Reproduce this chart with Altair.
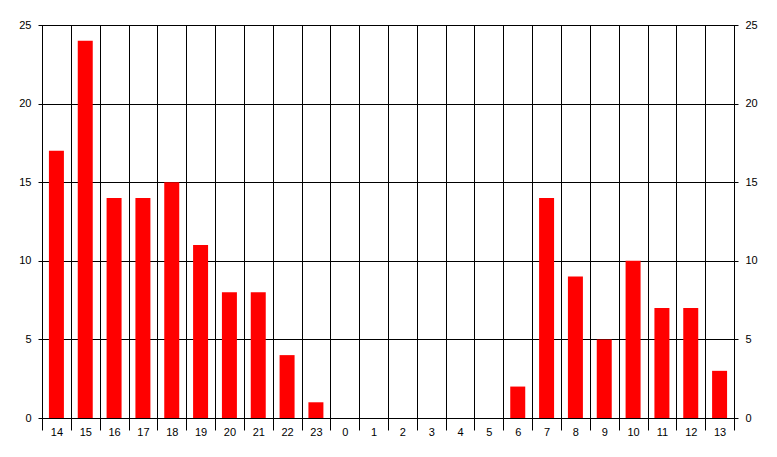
import altair as alt
import pandas as pd

hours = ["14", "15", "16", "17", "18", "19", "20", "21", "22", "23", "0", "1",
         "2", "3", "4", "5", "6", "7", "8", "9", "10", "11", "12", "13"]
counts = [17, 24, 14, 14, 15, 11, 8, 8, 4, 1, 0, 0,
          0, 0, 0, 0, 2, 14, 9, 5, 10, 7, 7, 3]

df = pd.DataFrame({"hour": hours, "count": counts})

FONT = "Liberation Sans"

base = alt.Chart(df)

bars = base.mark_bar(color="#FF0000", width=alt.RelativeBandSize(0.52)).encode(
    x=alt.X("hour:N", sort=hours, title=None,
            scale=alt.Scale(paddingInner=0, paddingOuter=0),
            axis=alt.Axis(tickBand="extent", grid=True, gridColor="black",
                          gridOpacity=1, gridWidth=1, tickColor="black",
                          tickSize=12, domainColor="black", labelAngle=0,
                          labelPadding=-4, labelFont=FONT, labelFontSize=11,
                          labelColor="black")),
    y=alt.Y("count:Q", title=None,
            scale=alt.Scale(domain=[0, 25], nice=False),
            axis=alt.Axis(values=[0, 5, 10, 15, 20, 25], grid=True,
                          gridColor="black", gridOpacity=1, tickColor="black",
                          tickSize=4, domainColor="black", labelFont=FONT,
                          labelFontSize=11, labelColor="black", labelPadding=7)),
)

right = base.mark_bar(opacity=0).encode(
    x=alt.X("hour:N", sort=hours),
    y=alt.Y("count:Q", title=None,
            scale=alt.Scale(domain=[0, 25], nice=False),
            axis=alt.Axis(orient="right", values=[0, 5, 10, 15, 20, 25],
                          grid=False, tickColor="black", tickSize=4,
                          domainColor="black", labelFont=FONT,
                          labelFontSize=11, labelColor="black", labelPadding=7)),
)

chart = alt.layer(bars, right).resolve_scale(y="independent").properties(
    width=692, height=393,
    autosize=alt.AutoSizeParams(type="none"),
    padding={"left": 34, "top": 17, "right": 35, "bottom": 31},
    background="white",
).configure_view(stroke="black", strokeWidth=1)

chart.save("out.html", embed_options={"renderer": "svg", "actions": False})
